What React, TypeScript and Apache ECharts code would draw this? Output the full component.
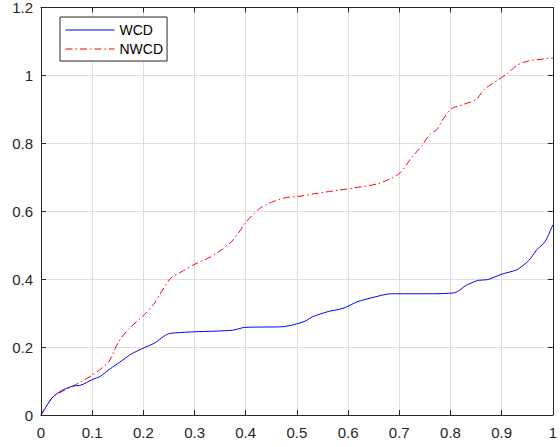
import React, { useEffect, useRef } from "react";
import * as echarts from "echarts";

const wcdX = [0, 0.023, 0.042, 0.062, 0.078, 0.1, 0.116, 0.135, 0.158, 0.177, 0.2, 0.222, 0.24, 0.251, 0.275, 0.299, 0.34, 0.376, 0.398, 0.435, 0.472, 0.494, 0.517, 0.53, 0.562, 0.59, 0.619, 0.651, 0.683, 0.754, 0.808, 0.831, 0.853, 0.873, 0.901, 0.93, 0.953, 0.969, 0.985, 1.0];
const wcdY = [0, 0.053, 0.073, 0.085, 0.088, 0.104, 0.114, 0.136, 0.16, 0.18, 0.197, 0.212, 0.232, 0.24, 0.243, 0.245, 0.247, 0.25, 0.258, 0.259, 0.26, 0.266, 0.277, 0.289, 0.305, 0.314, 0.334, 0.347, 0.357, 0.357, 0.36, 0.382, 0.396, 0.399, 0.415, 0.428, 0.455, 0.487, 0.511, 0.56];

const nwcdX = [0, 0.023, 0.046, 0.062, 0.081, 0.1, 0.11, 0.132, 0.151, 0.171, 0.203, 0.221, 0.232, 0.254, 0.276, 0.299, 0.324, 0.344, 0.376, 0.401, 0.427, 0.453, 0.478, 0.51, 0.536, 0.581, 0.626, 0.658, 0.683, 0.703, 0.722, 0.744, 0.76, 0.773, 0.789, 0.802, 0.824, 0.85, 0.866, 0.892, 0.911, 0.93, 0.953, 1.0];
const nwcdY = [0, 0.053, 0.073, 0.085, 0.1, 0.117, 0.128, 0.156, 0.214, 0.253, 0.297, 0.328, 0.355, 0.404, 0.423, 0.443, 0.46, 0.477, 0.516, 0.569, 0.608, 0.628, 0.64, 0.645, 0.652, 0.662, 0.672, 0.681, 0.696, 0.715, 0.754, 0.793, 0.827, 0.84, 0.879, 0.902, 0.914, 0.929, 0.959, 0.986, 1.005, 1.03, 1.043, 1.051];

const seriesNames = ["WCD", "NWCD"];

const axisColor = "#262626";
const gridColor = "#dfdfdf";
const font = "Liberation Sans, Helvetica, Arial, sans-serif";

export default function App() {
  const ref = useRef<HTMLDivElement>(null);
  useEffect(() => {
    if (!ref.current) return;
    const chart = echarts.init(ref.current, null, { renderer: "svg" });
    const zip = (xs: number[], ys: number[]) => xs.map((x, i) => [x, ys[i]]);
    const baseX = {
      type: "value",
      min: 0,
      max: 1,
      interval: 0.1,
      axisLine: { show: true, onZero: false, lineStyle: { color: axisColor, width: 1 } },
      axisTick: { show: true, inside: true, length: 5, lineStyle: { color: axisColor } },
    };
    const baseY = {
      type: "value",
      min: 0,
      max: 1.2,
      interval: 0.2,
      axisLine: { show: true, onZero: false, lineStyle: { color: axisColor, width: 1 } },
      axisTick: { show: true, inside: true, length: 5, lineStyle: { color: axisColor } },
    };
    chart.setOption({
      animation: false,
      backgroundColor: "#ffffff",
      grid: { left: 41, right: -1, top: 4, bottom: 32, containLabel: false },
      legend: {
        show: true,
        data: seriesNames,
        orient: "vertical",
        left: 60,
        top: 17,
        itemWidth: 49,
        itemHeight: 14,
        itemGap: 5,
        padding: [6, 4, 5, 5],
        borderColor: axisColor,
        borderWidth: 1,
        backgroundColor: "#ffffff",
        itemStyle: { opacity: 0 },
        lineStyle: { width: 1 },
        textStyle: { fontFamily: font, fontSize: 14, color: "#000000" },
        selectedMode: false,
      },
      xAxis: [
        {
          ...baseX,
          position: "bottom",
          splitLine: { show: true, lineStyle: { color: gridColor, width: 1 } },
          axisLabel: { show: true, margin: 10, color: axisColor, fontFamily: font, fontSize: 15 },
        },
        {
          ...baseX,
          position: "top",
          splitLine: { show: false },
          axisLabel: { show: false },
        },
      ],
      yAxis: [
        {
          ...baseY,
          position: "left",
          splitLine: { show: true, lineStyle: { color: gridColor, width: 1 } },
          axisLabel: { show: true, margin: 8, color: axisColor, fontFamily: font, fontSize: 15 },
        },
        {
          ...baseY,
          position: "right",
          splitLine: { show: false },
          axisLabel: { show: false },
        },
      ],
      series: [
        {
          name: seriesNames[0],
          type: "line",
          data: zip(wcdX, wcdY),
          symbol: "none",
          smooth: 0.25,
          lineStyle: { color: "#0000ff", width: 1 },
          itemStyle: { color: "#0000ff" },
          z: 3,
        },
        {
          name: seriesNames[1],
          type: "line",
          data: zip(nwcdX, nwcdY),
          symbol: "none",
          smooth: 0.25,
          lineStyle: { color: "#ff0000", width: 1, type: [7, 3, 1.5, 3] },
          itemStyle: { color: "#ff0000" },
          z: 2,
        },
      ],
    });
    return () => chart.dispose();
  }, []);
  return (
    <div
      ref={ref}
      style={{ position: "absolute", left: 0, top: 0, width: 560, height: 447, background: "#fff" }}
    />
  );
}
